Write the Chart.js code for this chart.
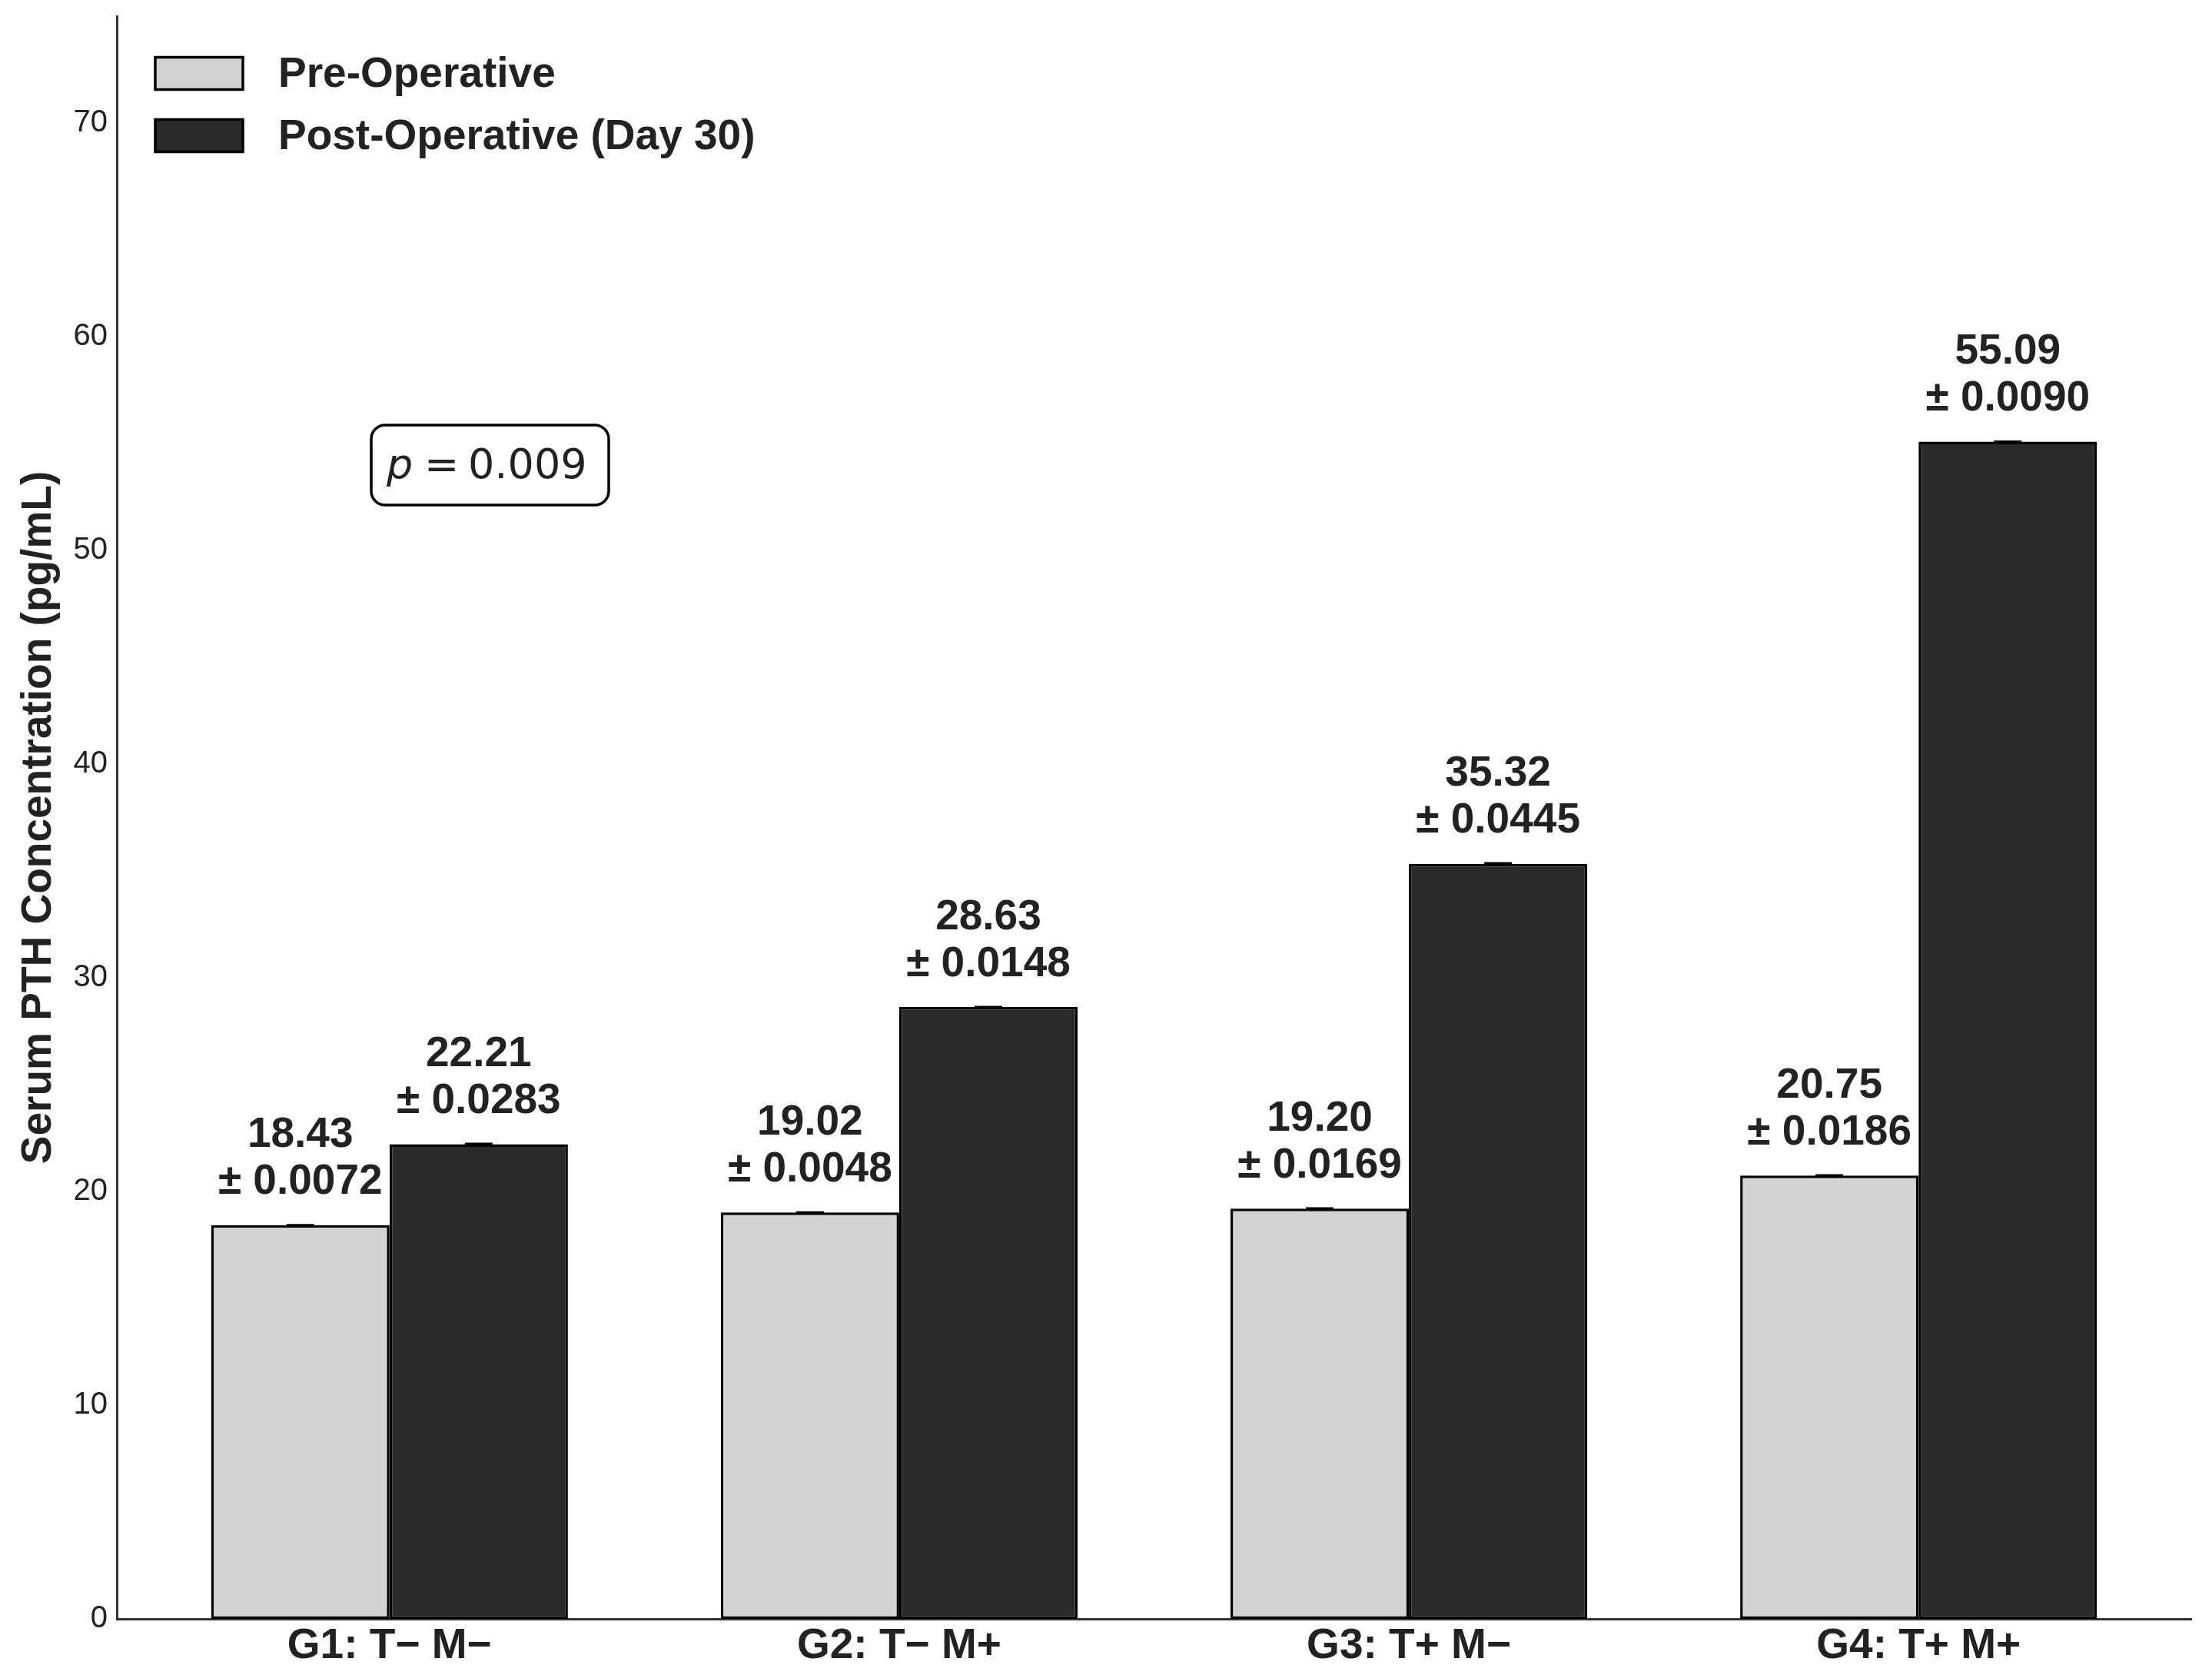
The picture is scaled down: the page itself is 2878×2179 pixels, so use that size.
<!DOCTYPE html>
<html>
<head>
<meta charset="utf-8">
<script src="https://cdn.jsdelivr.net/npm/chart.js@4.4.1/dist/chart.umd.min.js"></script>
<style>
  html, body { margin: 0; padding: 0; background: #fff; }
</style>
</head>
<body>
<canvas id="myChart" width="2878" height="2179" style="width:2878px;height:2179px"></canvas>
<script>
// data
const groups = ["G1: T\u2212 M\u2212", "G2: T\u2212 M+", "G3: T+ M\u2212", "G4: T+ M+"];
const preMean = [18.43, 19.02, 19.20, 20.75];
const preErr = [0.0072, 0.0048, 0.0169, 0.0186];
const postMean = [22.21, 28.63, 35.32, 55.09];
const postErr = [0.0283, 0.0148, 0.0445, 0.0090];
const yTicks = [0, 10, 20, 30, 40, 50, 60, 70];
const pText = "0.009";

const textColor = "#222";
const sans = "'Liberation Sans', Arial, sans-serif";

// error caps + value labels above each bar
const barLabels = {
  id: "barLabels",
  afterDatasetsDraw(chart) {
    const ctx = chart.ctx;
    const yScale = chart.scales.y;
    const errs = [preErr, postErr];
    chart.data.datasets.forEach((ds, di) => {
      const meta = chart.getDatasetMeta(di);
      meta.data.forEach((bar, i) => {
        const v = ds.data[i].y;
        const e = errs[di][i];
        const yTop = yScale.getPixelForValue(v + e);
        const yBot = yScale.getPixelForValue(v - e);
        ctx.save();
        ctx.strokeStyle = "#000";
        ctx.lineWidth = 2.5;
        ctx.beginPath();
        ctx.moveTo(bar.x, yTop);
        ctx.lineTo(bar.x, yBot);
        ctx.moveTo(bar.x - 18, yTop);
        ctx.lineTo(bar.x + 18, yTop);
        ctx.moveTo(bar.x - 18, yBot);
        ctx.lineTo(bar.x + 18, yBot);
        ctx.stroke();

        ctx.fillStyle = textColor;
        ctx.font = "bold 55px " + sans;
        ctx.textAlign = "center";
        ctx.textBaseline = "alphabetic";
        ctx.fillText(v.toFixed(2), bar.x, yTop - 101);
        ctx.fillText("\u00b1 " + e.toFixed(4), bar.x, yTop - 40);
        ctx.restore();
      });
    });
  },
};

// legend in the upper left of the plot
const innerLegend = {
  id: "innerLegend",
  afterDraw(chart) {
    const ctx = chart.ctx;
    const rows = [95.5, 176.5];
    chart.data.datasets.forEach((ds, i) => {
      const cy = rows[i];
      ctx.save();
      ctx.fillStyle = ds.backgroundColor;
      ctx.fillRect(202, cy - 21, 114, 42);
      ctx.strokeStyle = "#000";
      ctx.lineWidth = 3.5;
      ctx.strokeRect(202, cy - 21, 114, 42);
      ctx.fillStyle = textColor;
      ctx.font = "bold 55px " + sans;
      ctx.textAlign = "left";
      ctx.textBaseline = "middle";
      ctx.fillText(ds.label, 362, cy + 2);
      ctx.restore();
    });
  },
};

// p-value box
const pBox = {
  id: "pBox",
  afterDraw(chart) {
    const ctx = chart.ctx;
    ctx.save();
    ctx.beginPath();
    ctx.roundRect(483, 553, 309, 104, 18);
    ctx.fillStyle = "#fff";
    ctx.fill();
    ctx.strokeStyle = "#000";
    ctx.lineWidth = 3.5;
    ctx.stroke();
    ctx.fillStyle = textColor;
    ctx.textBaseline = "alphabetic";
    ctx.textAlign = "left";
    ctx.font = "italic 54px 'DejaVu Sans'";
    ctx.fillText("p", 503, 622);
    ctx.font = "54px 'DejaVu Sans'";
    ctx.fillText("=", 552, 622);
    ctx.fillText(pText, 609, 622);
    ctx.restore();
  },
};

const data = {
  datasets: [
    {
      label: "Pre-Operative",
      data: preMean.map((v, i) => ({ x: i, y: v })),
      backgroundColor: "#d3d3d3",
      borderColor: "#000",
      borderWidth: 3.5,
      borderSkipped: false,
    },
    {
      label: "Post-Operative (Day 30)",
      data: postMean.map((v, i) => ({ x: i, y: v })),
      backgroundColor: "#2b2b2b",
      borderColor: "#000",
      borderWidth: 3.5,
      borderSkipped: false,
    },
  ],
};

const config = {
  type: "bar",
  data,
  options: {
    responsive: false,
    devicePixelRatio: 1,
    animation: false,
    categoryPercentage: 0.7,
    barPercentage: 1.0,
    layout: {
      padding: { top: 21, right: 27, left: 0, bottom: 0 },
    },
    scales: {
      x: {
        type: "linear",
        offset: false,
        min: -0.535,
        max: 3.535,
        afterBuildTicks: (scale) => {
          scale.ticks = groups.map((g, i) => ({ value: i }));
        },
        afterFit: (scale) => {
          scale.height = 73;
          scale.paddingLeft = 0;
          scale.paddingRight = 0;
        },
        grid: { display: false, drawTicks: false },
        border: { display: true, color: "#333", width: 3 },
        ticks: {
          autoSkip: false,
          maxRotation: 0,
          padding: 3,
          color: textColor,
          font: { family: sans, size: 55, weight: "bold" },
          callback: (v) => groups[v],
        },
      },
      y: {
        min: 0,
        max: 75,
        afterBuildTicks: (scale) => {
          scale.ticks = yTicks.map((v) => ({ value: v }));
        },
        afterFit: (scale) => {
          scale.width = 152;
          scale.paddingTop = 0;
          scale.paddingBottom = 0;
        },
        grid: { display: false, drawTicks: false },
        border: { display: true, color: "#333", width: 3 },
        ticks: {
          padding: 12,
          color: textColor,
          font: { family: sans, size: 40 },
        },
        title: {
          display: true,
          text: "Serum PTH Concentration (pg/mL)",
          color: textColor,
          font: { family: sans, size: 55, weight: "bold" },
          padding: { top: 18, bottom: 0 },
        },
      },
    },
    plugins: {
      legend: { display: false },
      tooltip: { enabled: false },
    },
  },
  plugins: [barLabels, innerLegend, pBox],
};

// render init block
const myChart = new Chart(document.getElementById("myChart"), config);
</script>
</body>
</html>
